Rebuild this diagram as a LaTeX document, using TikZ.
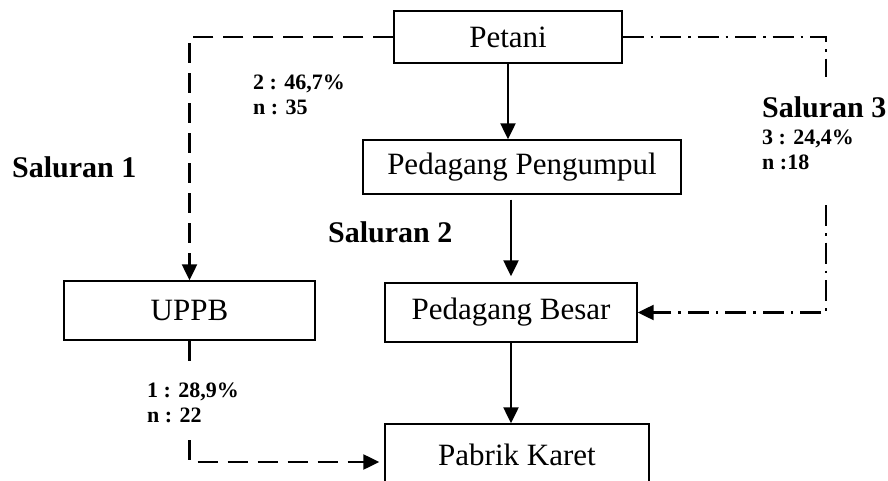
\documentclass[tikz,border=0pt]{standalone}
\usepackage{fontspec}
\setmainfont{Liberation Serif}
\usetikzlibrary{arrows.meta}
\tikzset{>={Triangle[length=16pt,width=15pt]},
  box/.style={draw,line width=1.4pt,inner sep=0pt,font=\fontsize{31}{36}\selectfont},
  flow/.style={->,line width=2.3pt},
  chanA/.style={line width=2.3pt,dash pattern=on 20pt off 10pt},
  chanC/.style={line width=2.3pt,dash pattern=on 21pt off 7pt on 2.5pt off 7pt},
  big/.style={anchor=west,inner sep=0pt,font=\bfseries\fontsize{30}{34}\selectfont},
  share/.style={anchor=west,align=left,inner sep=0pt,font=\bfseries\fontsize{22}{25}\selectfont}}

\begin{document}
\begin{tikzpicture}[x=1pt,y=-1pt]
  \useasboundingbox (0,0) rectangle (888,481);
  % boxes
  \node[box,minimum width=228pt,minimum height=52pt] (petani) at (508,37) {Petani};
  \node[box,minimum width=318pt,minimum height=54pt] (pp) at (522,167) {Pedagang Pengumpul};
  \node[box,minimum width=251pt,minimum height=59pt] (uppb) at (189.5,310.5) {UPPB};
  \node[box,minimum width=252pt,minimum height=59pt] (pb) at (511,312.5) {Pedagang Besar};
  \node[box,minimum width=264pt,minimum height=62pt] (pk) at (517,455) {Pabrik Karet};
  % breaks in the channel lines
  \coordinate (s3a) at (826,77);
  \coordinate (s3b) at (826,205);
  \coordinate (u1a) at (189.5,367);
  \coordinate (u1b) at (189.5,440);
  % saluran 2
  \draw[flow] (petani.south) -- (petani.south |- pp.north);
  \draw[flow,shorten <=5pt,shorten >=6pt] (pp.south -| pb.north) -- (pb.north);
  \draw[flow] (pb.south) -- (pb.south |- pk.north);
  % saluran 1
  \draw[chanA,->] (petani.west) -| (uppb.north);
  \draw[chanA] (uppb.south) -- (u1a);
  \draw[chanA,->,shorten >=5pt] (u1b) |- ([yshift=-7pt]pk.west);
  % saluran 3
  \draw[chanC] (petani.east) -| (s3a);
  \draw[chanC,->] (s3b) |- (pb.east);
  % labels
  \node[big] (sal1) at (12,167) {Saluran 1};
  \node[big] (sal2) at (328,232) {Saluran 2};
  \node[big] (sal3) at (762,107) {Saluran 3};
  \node[share] (p2) at (253,95) {2 : 46,7\%\\n : 35};
  \node[share] (p3) at (762,150) {3 : 24,4\%\\n :18};
  \node[share] (p1) at (147,403) {1 : 28,9\%\\n : 22};
\end{tikzpicture}
\end{document}
